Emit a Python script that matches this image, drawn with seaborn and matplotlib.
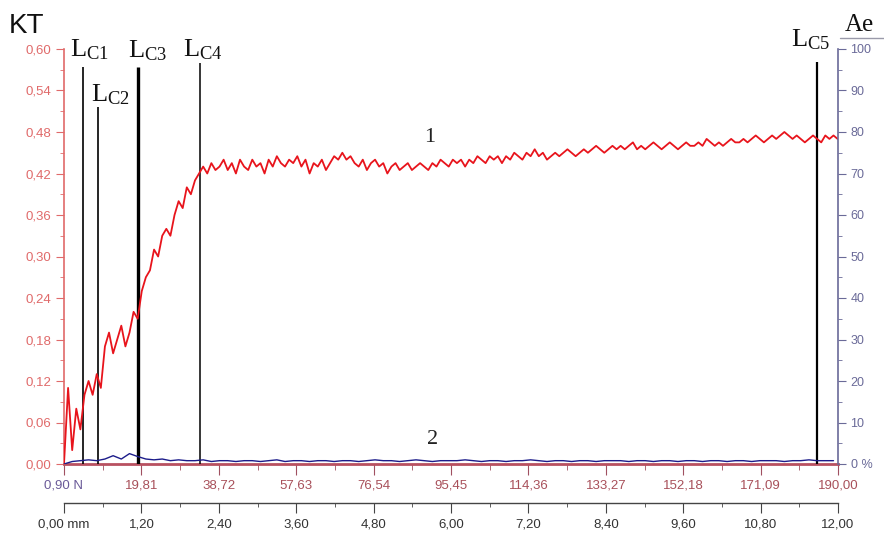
import numpy as np
import pandas as pd
import matplotlib
matplotlib.use("Agg")
import matplotlib.pyplot as plt
from matplotlib.ticker import MultipleLocator, FixedLocator
import seaborn as sns

# ---------------- data ----------------
x_start = 0.90          # N
x_step = 1.0            # N, sampling grid of curve 1
kt = [
    0.00, 0.11, 0.02, 0.08, 0.05, 0.10, 0.12, 0.10, 0.13, 0.11,
    0.17, 0.19, 0.16, 0.18, 0.20, 0.17, 0.19, 0.22, 0.21, 0.25,
    0.27, 0.28, 0.31, 0.30, 0.33, 0.34, 0.33, 0.36, 0.38, 0.37,
    0.40, 0.39, 0.41, 0.42, 0.43,
    0.42, 0.435, 0.425, 0.43, 0.44, 0.425, 0.435, 0.42, 0.44, 0.43,
    0.425, 0.44, 0.43, 0.435, 0.42, 0.44, 0.43, 0.445, 0.435, 0.43,
    0.44, 0.435, 0.445, 0.43, 0.44, 0.42, 0.435, 0.43, 0.44, 0.425,
    0.435, 0.445, 0.44, 0.45, 0.44, 0.445, 0.435, 0.43, 0.44, 0.425,
    0.435, 0.44, 0.43, 0.435, 0.42, 0.43, 0.435, 0.425, 0.43, 0.435,
    0.425, 0.43, 0.435, 0.43, 0.425, 0.435, 0.43, 0.44, 0.435, 0.43,
    0.44, 0.435, 0.44, 0.43, 0.44, 0.435, 0.445, 0.44, 0.435, 0.445,
    0.44, 0.445, 0.435, 0.445, 0.44, 0.45, 0.445, 0.44, 0.45, 0.445,
    0.455, 0.445, 0.45, 0.44, 0.445, 0.45, 0.445, 0.45, 0.455, 0.45,
    0.445, 0.45, 0.455, 0.45, 0.455, 0.46, 0.455, 0.45, 0.455, 0.46,
    0.455, 0.46, 0.455, 0.46, 0.465, 0.455, 0.46, 0.455, 0.46, 0.465,
    0.46, 0.455, 0.46, 0.465, 0.46, 0.455, 0.46, 0.465, 0.46, 0.46,
    0.465, 0.46, 0.47, 0.465, 0.46, 0.465, 0.46, 0.465, 0.47, 0.465,
    0.465, 0.47, 0.465, 0.47, 0.475, 0.47, 0.465, 0.47, 0.475, 0.47,
    0.475, 0.48, 0.475, 0.47, 0.475, 0.47, 0.465, 0.47, 0.475, 0.47,
    0.465, 0.475, 0.47, 0.475, 0.47,
]
ae_step = 2.0
ae = [
    0.0, 0.6, 0.8, 1.0, 0.8, 1.2, 2.0, 1.2, 2.5, 1.8,
    1.2, 1.0, 1.2, 0.8, 1.0, 0.8, 0.8, 1.0, 0.6, 0.8,
    0.8, 0.6, 0.8, 0.8, 0.6, 0.8, 1.0, 0.6, 0.8, 0.8,
    0.6, 0.8, 0.8, 0.6, 0.8, 0.8, 0.6, 0.8, 1.0, 0.8,
    0.8, 0.6, 0.8, 1.0, 0.8, 0.6, 0.8, 0.8, 0.8, 1.0,
    0.8, 0.6, 0.8, 0.8, 0.6, 0.8, 0.8, 1.0, 0.8, 0.6,
    0.8, 0.8, 0.6, 0.8, 0.8, 0.6, 0.8, 0.8, 0.8, 0.6,
    0.8, 0.8, 0.6, 0.8, 0.8, 0.6, 0.8, 0.8, 0.6, 0.8,
    0.8, 0.6, 0.8, 0.8, 0.6, 0.8, 0.8, 0.8, 0.6, 0.8,
    0.8, 1.0, 0.8, 0.8, 0.8,
]
lc_names = ["C1", "C2", "C3", "C4", "C5"]
lc_x = [5.5, 9.2, 19.0, 34.1, 184.9]          # N
lc_top = [0.574, 0.516, 0.574, 0.580, 0.581]  # KT
n_ticks = [0.90, 19.81, 38.72, 57.63, 76.54, 95.45, 114.36, 133.27, 152.18, 171.09, 190.00]
mm_ticks = [0.00, 1.20, 2.40, 3.60, 4.80, 6.00, 7.20, 8.40, 9.60, 10.80, 12.00]
kt_ticks = [0.00, 0.06, 0.12, 0.18, 0.24, 0.30, 0.36, 0.42, 0.48, 0.54, 0.60]
ae_ticks = [0, 10, 20, 30, 40, 50, 60, 70, 80, 90, 100]

# ---------------- style ----------------
sns.set_style("white")
plt.rcParams["font.family"] = ["Liberation Sans", "DejaVu Sans"]
plt.rcParams["mathtext.fontset"] = "custom"
plt.rcParams["mathtext.rm"] = "Liberation Serif"
plt.rcParams["mathtext.it"] = "Liberation Serif:italic"

W, H = 884, 537
fig = plt.figure(figsize=(W / 100, H / 100), dpi=100)
L_px, R_px, T_px, B_px = 64, 838, 49, 464
ax = fig.add_axes([L_px / W, 1 - B_px / H, (R_px - L_px) / W, (B_px - T_px) / H])

red = "#e8141c"
axis_red = "#e06a6a"
blue_axis = "#6a6a98"

df1 = pd.DataFrame({"N": [x_start + i * x_step for i in range(len(kt))], "KT": kt})
df2 = pd.DataFrame({"N": [x_start + i * ae_step for i in range(len(ae))], "Ae": ae})

ax.vlines(lc_x, 0, lc_top, colors="black",
          linewidths=[1.2, 1.2, 2.4, 1.1, 1.6], zorder=3)
sns.lineplot(data=df1, x="N", y="KT", ax=ax, color=red, lw=1.3, zorder=4)
ax.set_xlim(0.90, 190.0)
ax.set_ylim(0, 0.60)
ax.set_xlabel("")
ax.set_ylabel("")

for s in ["top", "right"]:
    ax.spines[s].set_visible(False)
ax.spines["left"].set_color(axis_red)
ax.spines["left"].set_linewidth(1.2)
ax.spines["bottom"].set_color("#b85060")
ax.spines["bottom"].set_linewidth(2.0)

ax.yaxis.set_major_locator(FixedLocator(kt_ticks))
ax.set_yticklabels([f"{v:.2f}".replace(".", ",") for v in kt_ticks], color=axis_red, fontsize=9.5)
ax.yaxis.set_minor_locator(MultipleLocator(0.03))
ax.tick_params(axis="y", which="major", left=True, length=6, color=axis_red, pad=3)
ax.tick_params(axis="y", which="minor", left=True, length=3, color=axis_red)

ax.xaxis.set_major_locator(FixedLocator(n_ticks))
xl = [f"{v:.2f}".replace(".", ",") for v in n_ticks]
xl[0] = xl[0] + " N"
ax.set_xticklabels(xl, fontsize=9.5)
for i, t in enumerate(ax.get_xticklabels()):
    t.set_color("#6a5a98" if i == 0 else "#a8505a")
minor_n = [n_ticks[i] + (n_ticks[1] - n_ticks[0]) / 2 for i in range(len(n_ticks) - 1)]
ax.xaxis.set_minor_locator(FixedLocator(minor_n))
ax.tick_params(axis="x", which="major", bottom=True, length=8, color="#a05060", pad=3)
ax.tick_params(axis="x", which="minor", bottom=True, length=4, color="#a05060")

# right axis (Ae)
ax2 = ax.twinx()
sns.lineplot(data=df2, x="N", y="Ae", ax=ax2, color="#1c1c8a", lw=1.0, zorder=2)
ax2.set_ylim(0, 100)
ax2.set_ylabel("")
for s in ["top", "left", "bottom"]:
    ax2.spines[s].set_visible(False)
ax2.spines["right"].set_color(blue_axis)
ax2.spines["right"].set_linewidth(1.2)
ax2.yaxis.set_major_locator(FixedLocator(ae_ticks))
ax2.set_yticklabels(["0 %"] + [str(v) for v in ae_ticks[1:]], color=blue_axis, fontsize=9)
ax2.yaxis.set_minor_locator(MultipleLocator(5))
ax2.tick_params(axis="y", which="major", right=True, length=6, color=blue_axis, pad=3)
ax2.tick_params(axis="y", which="minor", right=True, length=3, color=blue_axis)

# second x axis (mm)
ax3 = fig.add_axes([L_px / W, 1 - 503 / H, (R_px - L_px) / W, 0.0005])
ax3.patch.set_visible(False)
for s in ["top", "left", "right"]:
    ax3.spines[s].set_visible(False)
ax3.spines["bottom"].set_color("#444444")
ax3.spines["bottom"].set_linewidth(1.0)
ax3.set_yticks([])
ax3.set_xlim(0, 12)
ax3.xaxis.set_major_locator(FixedLocator(mm_ticks))
ml = [f"{v:.2f}".replace(".", ",") for v in mm_ticks]
ml[0] = ml[0] + " mm"
ax3.set_xticklabels(ml, fontsize=9.5, color="#333333")
ax3.xaxis.set_minor_locator(MultipleLocator(0.6))
ax3.tick_params(axis="x", which="major", bottom=True, length=7, color="#444444", pad=4)
ax3.tick_params(axis="x", which="minor", bottom=True, length=3, color="#444444")

# texts
def ftxt(xp, yp, s, **kw):
    fig.text(xp / W, 1 - yp / H, s, va="baseline", **kw)

ftxt(9, 33, "KT", fontsize=20, color="#111111", family=["Liberation Sans"])
ftxt(845, 31, "Ae", fontsize=18, color="#111111", family=["Liberation Serif"])
fig.add_artist(plt.Line2D([840 / W, 884 / W], [1 - 38 / H, 1 - 38 / H], color="#9a9aaa", lw=1))

lc_lab_pos = [(70, 56), (91, 101), (128, 57), (183, 56), (791, 46)]
for name, (xp, yp) in zip(lc_names, lc_lab_pos):
    ftxt(xp, yp, r"L$_{\mathrm{%s}}$" % name, fontsize=19, color="#111111",
         family=["Liberation Serif"])
ftxt(424, 142, "1", fontsize=16, color="#222222", family=["Liberation Serif"])
ftxt(427, 444, "2", fontsize=16, color="#222222", family=["Liberation Serif"])

fig.savefig("out.png", dpi=100)
